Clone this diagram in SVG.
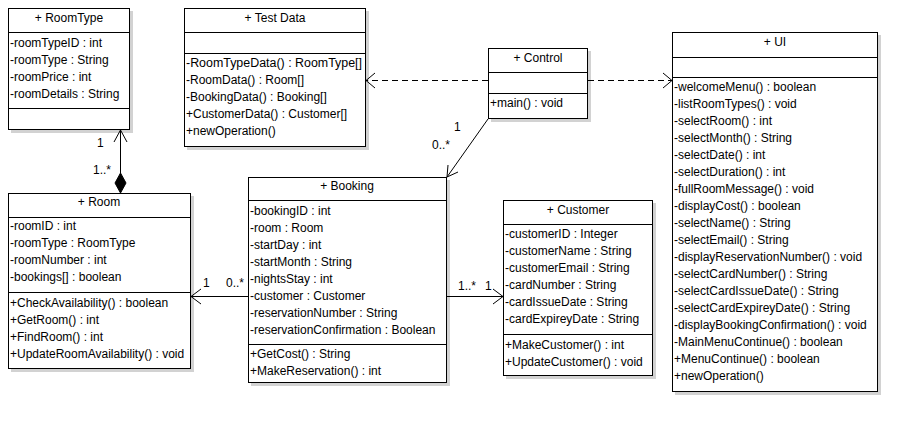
<svg xmlns="http://www.w3.org/2000/svg" width="908" height="422" viewBox="0 0 908 422">
<defs>
<style>
.box{fill:#fff;stroke:#000;stroke-width:1}
.sh{fill:#d2d2d2}
.sep{stroke:#000;stroke-width:1}
text{font-family:"Liberation Sans",Arial,sans-serif;font-size:12px;fill:#000}
.t{text-anchor:middle}
.ln{stroke:#000;stroke-width:1;fill:none}
.dash{stroke:#000;stroke-width:1;fill:none;stroke-dasharray:6 4}
.dia{fill:#000;stroke:#000}
</style>
</defs>
<rect width="908" height="422" fill="#fff"/>

<g id="RoomType">
<rect class="sh" x="11" y="11" width="122" height="122"/>
<rect class="box" x="8.5" y="8.5" width="121" height="121"/>
<line class="sep" x1="8.5" y1="32.5" x2="129.5" y2="32.5"/>
<line class="sep" x1="8.5" y1="108.5" x2="129.5" y2="108.5"/>
<text class="t" x="69" y="22">+ RoomType</text>
<text x="10" y="47">-roomTypeID : int</text>
<text x="10" y="64">-roomType : String</text>
<text x="10" y="81">-roomPrice : int</text>
<text x="10" y="98">-roomDetails : String</text>
</g>

<g id="TestData">
<rect class="sh" x="187" y="11" width="182" height="139"/>
<rect class="box" x="184.5" y="8.5" width="181" height="138"/>
<line class="sep" x1="184.5" y1="32.5" x2="365.5" y2="32.5"/>
<line class="sep" x1="184.5" y1="53.5" x2="365.5" y2="53.5"/>
<text class="t" x="275" y="22">+ Test Data</text>
<text x="186" y="67" textLength="176" lengthAdjust="spacingAndGlyphs">-RoomTypeData() : RoomType[]</text>
<text x="186" y="84">-RoomData() : Room[]</text>
<text x="186" y="101">-BookingData() : Booking[]</text>
<text x="186" y="118">+CustomerData() : Customer[]</text>
<text x="186" y="135">+newOperation()</text>
</g>

<g id="Control">
<rect class="sh" x="491" y="51" width="100" height="71"/>
<rect class="box" x="488.5" y="48.5" width="99" height="70"/>
<line class="sep" x1="488.5" y1="72.5" x2="587.5" y2="72.5"/>
<line class="sep" x1="488.5" y1="93.5" x2="587.5" y2="93.5"/>
<text class="t" x="538" y="62">+ Control</text>
<text x="490" y="107">+main() : void</text>
</g>

<g id="UI">
<rect class="sh" x="675" y="35" width="206" height="360"/>
<rect class="box" x="672.5" y="32.5" width="205" height="359"/>
<line class="sep" x1="672.5" y1="57.5" x2="877.5" y2="57.5"/>
<line class="sep" x1="672.5" y1="77.5" x2="877.5" y2="77.5"/>
<text class="t" x="775" y="46">+ UI</text>
<text x="674" y="91">-welcomeMenu() : boolean</text>
<text x="674" y="108">-listRoomTypes() : void</text>
<text x="674" y="125">-selectRoom() : int</text>
<text x="674" y="142">-selectMonth() : String</text>
<text x="674" y="159">-selectDate() : int</text>
<text x="674" y="176">-selectDuration() : int</text>
<text x="674" y="193">-fullRoomMessage() : void</text>
<text x="674" y="210">-displayCost() : boolean</text>
<text x="674" y="227">-selectName() : String</text>
<text x="674" y="244">-selectEmail() : String</text>
<text x="674" y="261">-displayReservationNumber() : void</text>
<text x="674" y="278">-selectCardNumber() : String</text>
<text x="674" y="295">-selectCardIssueDate() : String</text>
<text x="674" y="312">-selectCardExpireyDate() : String</text>
<text x="674" y="329">-displayBookingConfirmation() : void</text>
<text x="674" y="346">-MainMenuContinue() : boolean</text>
<text x="674" y="363">+MenuContinue() : boolean</text>
<text x="674" y="380">+newOperation()</text>
</g>

<g id="Room">
<rect class="sh" x="11" y="196" width="183" height="176"/>
<rect class="box" x="8.5" y="193.5" width="182" height="175"/>
<line class="sep" x1="8.5" y1="217.5" x2="190.5" y2="217.5"/>
<line class="sep" x1="8.5" y1="292.5" x2="190.5" y2="292.5"/>
<text class="t" x="99" y="206">+ Room</text>
<text x="10" y="230">-roomID : int</text>
<text x="10" y="247">-roomType : RoomType</text>
<text x="10" y="264">-roomNumber : int</text>
<text x="10" y="281">-bookings[] : boolean</text>
<text x="10" y="307">+CheckAvailability() : boolean</text>
<text x="10" y="324">+GetRoom() : int</text>
<text x="10" y="341">+FindRoom() : int</text>
<text x="10" y="358">+UpdateRoomAvailability() : void</text>
</g>

<g id="Booking">
<rect class="sh" x="251" y="180" width="199" height="206"/>
<rect class="box" x="248.5" y="177.5" width="198" height="205"/>
<line class="sep" x1="248.5" y1="200.5" x2="446.5" y2="200.5"/>
<line class="sep" x1="248.5" y1="344.5" x2="446.5" y2="344.5"/>
<text class="t" x="347" y="190">+ Booking</text>
<text x="250" y="215">-bookingID : int</text>
<text x="250" y="232">-room : Room</text>
<text x="250" y="249">-startDay : int</text>
<text x="250" y="266">-startMonth : String</text>
<text x="250" y="283">-nightsStay : int</text>
<text x="250" y="300">-customer : Customer</text>
<text x="250" y="317">-reservationNumber : String</text>
<text x="250" y="334">-reservationConfirmation : Boolean</text>
<text x="250" y="358">+GetCost() : String</text>
<text x="250" y="375">+MakeReservation() : int</text>
</g>

<g id="Customer">
<rect class="sh" x="506" y="203" width="150" height="176"/>
<rect class="box" x="503.5" y="200.5" width="149" height="175"/>
<line class="sep" x1="503.5" y1="224.5" x2="652.5" y2="224.5"/>
<line class="sep" x1="503.5" y1="334.5" x2="652.5" y2="334.5"/>
<text class="t" x="578" y="214">+ Customer</text>
<text x="505" y="238">-customerID : Integer</text>
<text x="505" y="255">-customerName : String</text>
<text x="505" y="272">-customerEmail : String</text>
<text x="505" y="289">-cardNumber : String</text>
<text x="505" y="306">-cardIssueDate : String</text>
<text x="505" y="323">-cardExpireyDate : String</text>
<text x="505" y="349">+MakeCustomer() : int</text>
<text x="505" y="366">+UpdateCustomer() : void</text>
</g>

<g id="connectors">
<line class="ln" x1="120.5" y1="130" x2="120.5" y2="173"/>
<polyline class="ln" points="114,142 120.5,130 127,142"/>
<polygon class="dia" points="120.5,173 126,183 120.5,193 115,183"/>
<text x="97" y="147">1</text>
<text x="93" y="174">1..*</text>

<line class="ln" x1="248" y1="296.5" x2="191" y2="296.5"/>
<polyline class="ln" points="201,289 191,296.5 201,304"/>
<text x="203" y="287">1</text>
<text x="226" y="287">0..*</text>

<line class="ln" x1="447" y1="296.5" x2="503" y2="296.5"/>
<polyline class="ln" points="493,289 503,296.5 493,304"/>
<text x="458" y="290">1..*</text>
<text x="485" y="290">1</text>

<line class="ln" x1="488" y1="119" x2="447" y2="177"/>
<polyline class="ln" points="458,172 447,177 448,165"/>
<text x="454" y="131">1</text>
<text x="432" y="149">0..*</text>

<line class="dash" x1="488" y1="80.5" x2="366" y2="80.5"/>
<polyline class="ln" points="375,73 366,80.5 375,88"/>

<line class="dash" x1="588" y1="80.5" x2="672" y2="80.5"/>
<polyline class="ln" points="663,73 672,80.5 663,88"/>
</g>
</svg>
